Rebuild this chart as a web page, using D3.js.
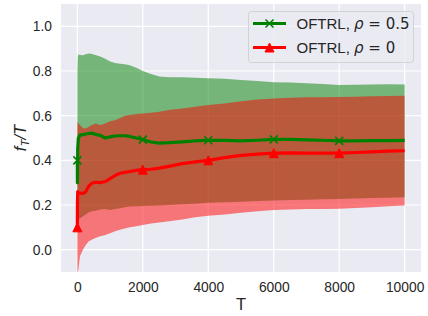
<!DOCTYPE html>
<html>
<head>
<meta charset="utf-8">
<script src="https://cdn.jsdelivr.net/npm/d3@7"></script>
<style>
  body { margin: 0; background: #fff; }
  text { font-family: "Liberation Sans", Arial, sans-serif; fill: #262626; }
</style>
</head>
<body>
<div id="chart"></div>
<script>
// sampled horizon values (T) shared by every series
const T = [0, 2, 10, 30, 80, 170, 250, 350, 450, 550, 700, 850, 1000, 1150, 1300, 1450, 1600, 1800,
    2000, 2250, 2500, 2800, 3200, 3600, 4000, 4500, 5000, 5500, 6000, 6500, 7000, 7500, 8000, 8500, 9000, 9500, 10000];

// OFTRL, rho = 0.5
const meanRho05 = [0.40, 0.30, 0.45, 0.50, 0.513, 0.515, 0.518, 0.52, 0.522, 0.516, 0.512, 0.50, 0.505, 0.509, 0.51, 0.51, 0.507, 0.50,
    0.493, 0.482, 0.477, 0.479, 0.483, 0.487, 0.49, 0.489, 0.487, 0.49, 0.494, 0.494, 0.492, 0.49, 0.487, 0.487, 0.488, 0.488, 0.489];
const hiRho05 = [0.77, 0.80, 0.86, 0.875, 0.872, 0.87, 0.875, 0.878, 0.876, 0.872, 0.865, 0.855, 0.842, 0.836, 0.833, 0.83, 0.826, 0.815,
    0.80, 0.787, 0.775, 0.772, 0.772, 0.77, 0.768, 0.765, 0.76, 0.755, 0.75, 0.748, 0.745, 0.742, 0.737, 0.738, 0.74, 0.741, 0.74];
const loRho05 = [-0.04, 0.10, 0.13, 0.134, 0.14, 0.15, 0.156, 0.168, 0.172, 0.174, 0.18, 0.182, 0.178, 0.182, 0.186, 0.19, 0.193, 0.194,
    0.196, 0.197, 0.198, 0.20, 0.203, 0.206, 0.21, 0.212, 0.215, 0.218, 0.22, 0.222, 0.224, 0.226, 0.227, 0.229, 0.231, 0.233, 0.235];

// OFTRL, rho = 0
const meanRho0 = [0.10, 0.20, 0.26, 0.25, 0.253, 0.252, 0.258, 0.285, 0.298, 0.302, 0.30, 0.305, 0.318, 0.332, 0.342, 0.346, 0.35, 0.355,
    0.358, 0.36, 0.365, 0.373, 0.385, 0.393, 0.40, 0.412, 0.422, 0.428, 0.432, 0.433, 0.432, 0.432, 0.432, 0.435, 0.438, 0.441, 0.443];
const hiRho0 = [0.58, 0.575, 0.57, 0.565, 0.558, 0.545, 0.543, 0.55, 0.558, 0.565, 0.558, 0.565, 0.575, 0.58, 0.588, 0.60, 0.603, 0.608,
    0.61, 0.613, 0.618, 0.625, 0.632, 0.64, 0.648, 0.655, 0.665, 0.672, 0.677, 0.68, 0.682, 0.683, 0.684, 0.685, 0.687, 0.688, 0.689];
const loRho0 = [-0.12, -0.11, -0.10, -0.09, -0.03, 0.0, 0.02, 0.038, 0.045, 0.052, 0.06, 0.066, 0.074, 0.082, 0.089, 0.095, 0.10, 0.105,
    0.11, 0.117, 0.122, 0.127, 0.135, 0.145, 0.152, 0.158, 0.165, 0.172, 0.178, 0.18, 0.182, 0.182, 0.183, 0.187, 0.19, 0.194, 0.198];

const markerT = [0, 2000, 4000, 6000, 8000];
const xTicks = [0, 2000, 4000, 6000, 8000, 10000];
const yTicks = [0.0, 0.2, 0.4, 0.6, 0.8, 1.0];

const series = [
    { name: "0.5", color: "green", marker: "x", mean: meanRho05, lo: loRho05, hi: hiRho05 },
    { name: "0", color: "red", marker: "^", mean: meanRho0, lo: loRho0, hi: hiRho0 }
];

const width = 428, height = 316;
const margin = { top: 4, right: 7, bottom: 44, left: 61 };

const svg = d3.select("#chart").append("svg")
    .attr("width", width)
    .attr("height", height);

const x = d3.scaleLinear().domain([-500, 10500]).range([margin.left, width - margin.right]);
const y = d3.scaleLinear().domain([-0.1, 1.1]).range([height - margin.bottom, margin.top]);

// background + grid
svg.append("rect")
    .attr("x", margin.left).attr("y", margin.top)
    .attr("width", width - margin.left - margin.right)
    .attr("height", height - margin.top - margin.bottom)
    .attr("fill", "#EAEAF2");

svg.append("clipPath").attr("id", "clip")
    .append("rect")
    .attr("x", margin.left).attr("y", margin.top)
    .attr("width", width - margin.left - margin.right)
    .attr("height", height - margin.top - margin.bottom);

const grid = svg.append("g").attr("stroke", "#fff").attr("stroke-width", 1.2);
grid.selectAll(".gx").data(xTicks).enter().append("line")
    .attr("x1", d => x(d)).attr("x2", d => x(d))
    .attr("y1", margin.top).attr("y2", height - margin.bottom);
grid.selectAll(".gy").data(yTicks).enter().append("line")
    .attr("y1", d => y(d)).attr("y2", d => y(d))
    .attr("x1", margin.left).attr("x2", width - margin.right);

// axes (labels only, seaborn darkgrid has no spines)
const xAxis = svg.append("g")
    .attr("transform", `translate(0,${height - margin.bottom})`)
    .call(d3.axisBottom(x).tickValues(xTicks).tickFormat(d3.format("d")).tickSize(0).tickPadding(10));
const yAxis = svg.append("g")
    .attr("transform", `translate(${margin.left},0)`)
    .call(d3.axisLeft(y).tickValues(yTicks).tickFormat(d3.format(".1f")).tickSize(0).tickPadding(9));
[xAxis, yAxis].forEach(a => {
    a.select(".domain").remove();
    a.selectAll("text").attr("font-family", "Liberation Sans, Arial, sans-serif")
        .attr("font-size", "13.8px").attr("fill", "#262626");
});

const plot = svg.append("g").attr("clip-path", "url(#clip)");

// confidence bands
series.forEach(s => {
    const area = d3.area()
        .x((d, i) => x(T[i]))
        .y0((d, i) => y(s.lo[i]))
        .y1((d, i) => y(s.hi[i]));
    plot.append("path")
        .datum(s.mean)
        .attr("d", area)
        .attr("fill", s.color)
        .attr("fill-opacity", 0.5);
});

// mean lines + markers
const line = d3.line().x((d, i) => x(T[i])).y(d => d);

const drawMarker = (g, kind, color, cx, cy) => {
    if (kind === "x") {
        const r = 4;
        g.append("path")
            .attr("d", `M${cx - r},${cy - r}L${cx + r},${cy + r}M${cx - r},${cy + r}L${cx + r},${cy - r}`)
            .attr("stroke", color).attr("stroke-width", 1.6).attr("fill", "none");
    } else {
        const r = 4.5;
        g.append("path")
            .attr("d", `M${cx},${cy - r}L${cx - r},${cy + r}L${cx + r},${cy + r}Z`)
            .attr("fill", color).attr("stroke", color).attr("stroke-width", 1);
    }
};

series.forEach(s => {
    plot.append("path")
        .datum(s.mean.map(v => y(v)))
        .attr("d", line)
        .attr("fill", "none")
        .attr("stroke", s.color)
        .attr("stroke-width", 3.2)
        .attr("stroke-linejoin", "round");
    const mg = plot.append("g");
    markerT.forEach(t => {
        const i = T.indexOf(t);
        drawMarker(mg, s.marker, s.color, x(T[i]), y(s.mean[i]));
    });
});

// axis titles
svg.append("text")
    .attr("x", x(5000)).attr("y", 310)
    .attr("text-anchor", "middle")
    .attr("font-size", "16.5px")
    .text("T");

const ylab = svg.append("text")
    .attr("transform", `translate(26,${(margin.top + height - margin.bottom) / 2}) rotate(-90)`)
    .attr("text-anchor", "middle")
    .attr("font-family", "DejaVu Sans, sans-serif")
    .attr("font-style", "italic")
    .attr("font-size", "16.5px");
ylab.append("tspan").text("f");
ylab.append("tspan").attr("font-size", "11.5px").attr("dy", 3).text("T");
ylab.append("tspan").attr("dy", -3).text("/T");

// legend
const legend = svg.append("g").attr("transform", "translate(248.5,11.5)");
legend.append("rect")
    .attr("width", 165).attr("height", 51)
    .attr("rx", 3)
    .attr("fill", "#EAEAF2").attr("fill-opacity", 0.8)
    .attr("stroke", "#cccccc").attr("stroke-width", 0.8);

series.forEach((s, k) => {
    const cy = 12 + k * 24;
    const g = legend.append("g");
    g.append("line")
        .attr("x1", 4.5).attr("x2", 37.5)
        .attr("y1", cy).attr("y2", cy)
        .attr("stroke", s.color).attr("stroke-width", 3.2);
    drawMarker(g, s.marker, s.color, 21, cy);
    const t = g.append("text")
        .attr("x", 48).attr("y", cy + 5)
        .attr("font-size", "15px");
    t.append("tspan").text("OFTRL, ");
    t.append("tspan").attr("font-family", "DejaVu Sans, sans-serif").attr("font-style", "italic").text("ρ");
    t.append("tspan").attr("font-family", "DejaVu Sans, sans-serif").text(" = " + s.name);
});
</script>
</body>
</html>
